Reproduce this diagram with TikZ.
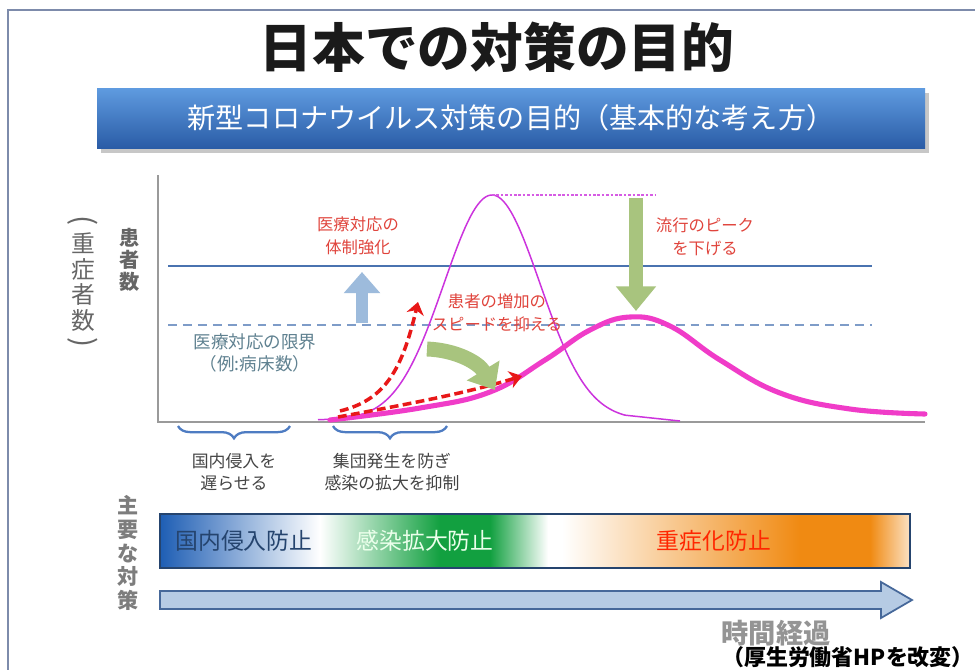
\documentclass[tikz,border=0pt]{standalone}
\usepackage{fontspec}
\setmainfont{Noto Sans CJK JP}
\usetikzlibrary{arrows.meta,decorations.pathreplacing}
\definecolor{frame}{HTML}{7D8BAB}
\definecolor{ttl}{HTML}{1A1A1A}
\definecolor{bantop}{HTML}{5F9BE0}
\definecolor{banbot}{HTML}{2A5CA6}
\definecolor{axisgray}{HTML}{9A9A9A}
\definecolor{capline}{HTML}{4A73B0}
\definecolor{limline}{HTML}{7E9CC8}
\definecolor{upblue}{HTML}{9DBBDC}
\definecolor{redtxt}{HTML}{E0443C}
\definecolor{limtxt}{HTML}{5F8190}
\definecolor{thinmag}{HTML}{CC33DD}
\definecolor{thickpink}{HTML}{F03CC8}
\definecolor{dashred}{HTML}{E81818}
\definecolor{olivegr}{HTML}{A8C47E}
\definecolor{bracec}{HTML}{4E7CC2}
\definecolor{labgray}{HTML}{444444}
\definecolor{sidegray}{HTML}{666666}
\definecolor{barblue}{HTML}{1E5EB4}
\definecolor{bargreen}{HTML}{12A040}
\definecolor{barorange}{HTML}{F08A12}
\definecolor{barline}{HTML}{25446E}
\definecolor{arrowfill}{HTML}{B6CBE4}
\definecolor{arrowline}{HTML}{46689A}
\tikzset{
  redlabel/.style={text=redtxt, font=\fontsize{9.3}{13}\selectfont, align=center, inner sep=0pt},
  graylabel/.style={text=labgray, font=\fontsize{9.6}{12.5}\selectfont, align=center, inner sep=0pt},
  vlabel/.style={align=center, inner sep=0pt},
  redarrow/.style={dashred, line width=2pt, dash pattern=on 5pt off 2.5pt, -{Stealth[width=10pt,length=7pt]}},
  bracestyle/.style={bracec, line width=1.3pt, decorate, decoration={brace, mirror, amplitude=7pt}},
  bartext/.style={font=\fontsize{13}{13}\selectfont, inner sep=0pt},
  vparen/.style={text=sidegray, font=\fontsize{17}{17}\selectfont, rotate=-90, inner sep=0pt}
}
\begin{document}
\begin{tikzpicture}[x=0.02cm,y=-0.02cm]
\useasboundingbox (0,0) rectangle (975,670);
\fill[white] (0,0) rectangle (975,670);
% frame
\draw[frame, line width=1.3pt] (8,670) -- (8,10) -- (975,10);
% title
\node[text=ttl, font=\fontsize{30}{30}\selectfont\bfseries] (title) at (497,47) {日本での対策の目的};
% banner
\fill[black!22] (101,93) rectangle (929,153);
\shade[top color=bantop, bottom color=banbot] (97,88) rectangle (925,148);
\node[text=white, font=\fontsize{16}{16}\selectfont] (banner) at (511,118) {新型コロナウイルス対策の目的（基本的な考え方）};
% axes
\draw[axisgray, line width=1.2pt] (158,175) -- (158,422) -- (925,422);
% capacity lines
\draw[capline, line width=1.7pt] (168,266) -- (872,266);
\draw[limline, line width=1.1pt, dash pattern=on 5pt off 3.5pt] (168,325) -- (872,325);
% up arrow
\draw[upblue, line width=7pt, -{Triangle[width=20pt,length=12pt]}] (362,323) -- (362,272);
% thin curve
\draw[thinmag, line width=0.85pt] plot[domain=318:625, samples=120] (\x,{420-225*exp(-0.5*((\x-492)/48)^2)}) -- (680,421);
\draw[thinmag!80, line width=0.8pt, dash pattern=on 1.5pt off 1pt] (492,195) -- (655,195);
% thick curve
\draw[thickpink, line width=2.9pt, line cap=round] plot[smooth, tension=0.7] coordinates {(330,420) (420,408) (490,392) (545,360) (590,330) (630,317) (670,326) (720,360) (780,393) (850,409) (925,414)};
% red dashed arrows
\draw[redarrow] (340,411) .. controls (385,400) and (402,370) .. (418,302);
\draw[redarrow] (338,417) .. controls (420,402) and (470,392) .. (522,376);
% green arrows
\draw[olivegr, line width=8.5pt, -{Triangle[width=21pt,length=13pt]}] (427,349) .. controls (455,350) and (478,362) .. (495,390);
\draw[olivegr, line width=8pt, -{Triangle[width=22pt,length=14pt]}] (636,198) -- (636,311);
% red labels
\node[redlabel] (l1) at (358,236) {医療対応の\\体制強化};
\node[redlabel] (l2) at (705,237) {流行のピーク\\を下げる};
\node[redlabel] (l3) at (497,313) {患者の増加の\\スピードを抑える};
\node[text=limtxt, font=\fontsize{10}{13}\selectfont, align=center, inner sep=0pt] (l4) at (255,353) {医療対応の限界\\（例:病床数）};
% side labels
\node[vlabel, text=sidegray, font=\fontsize{11.5}{12.6}\selectfont\bfseries] (ylab) at (130,260) {患\\者\\数};
\node[vlabel, text=sidegray, font=\fontsize{13.5}{14.6}\selectfont] (ylab2) at (83,282) {重\\症\\者\\数};
\node[vparen] (po) at (83,221) {(};
\node[vparen] (pc) at (83,343) {)};
\node[vlabel, text=sidegray!85, font=\fontsize{12}{13.5}\selectfont\bfseries] (mlab) at (128,553) {主\\要\\な\\対\\策};
% braces
\draw[bracestyle] (178,426) -- (290,426);
\draw[bracestyle] (333,426) -- (447,426);
\node[graylabel] (b1) at (234,472) {国内侵入を\\遅らせる};
\node[graylabel] (b2) at (392,472) {集団発生を防ぎ\\感染の拡大を抑制};
% bar
\fill[left color=barblue, right color=white] (160,514) rectangle (320,568);
\fill[left color=white, right color=bargreen] (320,514) rectangle (440,568);
\fill[bargreen] (440,514) rectangle (490,568);
\fill[left color=bargreen, right color=white] (490,514) rectangle (548,568);
\fill[white] (548,514) rectangle (562,568);
\fill[left color=white, right color=barorange] (562,514) rectangle (800,568);
\fill[barorange] (800,514) rectangle (870,568);
\fill[left color=barorange, right color=barorange!25] (870,514) rectangle (910,568);
\draw[barline, line width=1.3pt] (160,514) rectangle (910,568);
\node[bartext, text=barline] (m1) at (244,541) {国内侵入防止};
\node[bartext, text=green!8!white] (m2) at (425,541) {感染拡大防止};
\node[bartext, text=red!70!orange] (m3) at (714,541) {重症化防止};
% time arrow
\draw[arrowline, fill=arrowfill, line width=1pt] (160,591) -- (881,591) -- (881,582) -- (912,600) -- (881,618) -- (881,609) -- (160,609) -- cycle;
\node[text=black!42, font=\fontsize{15.5}{15.5}\selectfont\bfseries, inner sep=0pt] (time) at (776,633) {時間経過};
\node[text=black, font=\fontsize{12.5}{12.5}\selectfont\bfseries, inner sep=0pt] (src) at (848,657) {（厚生労働省HPを改変）};
\end{tikzpicture}
\end{document}
